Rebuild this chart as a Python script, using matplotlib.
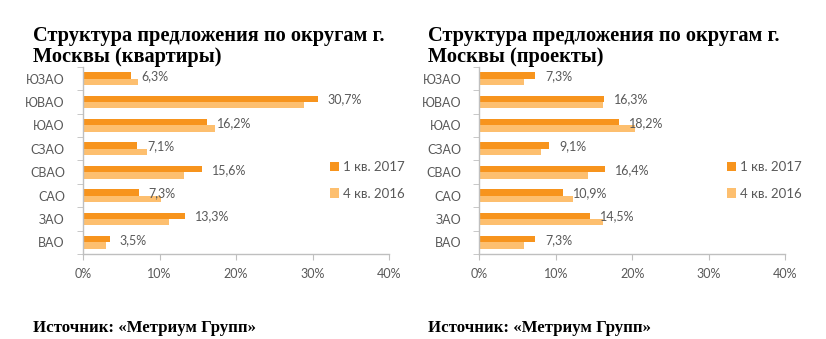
""" Структура предложения по округам Москвы: квартиры и проекты """

import matplotlib
matplotlib.use("Agg")
import matplotlib.pyplot as plt
import numpy as np

districts = ["ВАО", "ЗАО", "САО", "СВАО", "СЗАО", "ЮАО", "ЮВАО", "ЮЗАО"]

# квартиры, %
flats_q1_2017 = [3.5, 13.3, 7.3, 15.6, 7.1, 16.2, 30.7, 6.3]
flats_q4_2016 = [3.0, 11.2, 10.2, 13.2, 8.4, 17.3, 28.9, 7.2]

# проекты, %
projects_q1_2017 = [7.3, 14.5, 10.9, 16.4, 9.1, 18.2, 16.3, 7.3]
projects_q4_2016 = [5.9, 16.2, 12.3, 14.2, 8.0, 20.3, 16.2, 5.9]

series_labels = ["1 кв. 2017", "4 кв. 2016"]
x_ticks = [0, 10, 20, 30, 40]

DARK = "#F7941D"
LIGHT = "#FDBF6F"
GREY = "#BFBFBF"
TEXT = "#595959"
UI_FONT = ["Lato", "DejaVu Sans"]
SERIF = ["Liberation Serif", "DejaVu Serif"]


def drawPanel(fig, rect, title, textX, cur, prev, legendPos):
    """ Draws one horizontal bar chart panel """

    ax = fig.add_axes(rect)
    y = np.arange(len(districts))
    h = 0.27

    ax.barh(y + h / 2, cur, height=h, color=DARK, label=series_labels[0])
    ax.barh(y - h / 2, prev, height=h, color=LIGHT, label=series_labels[1])

    # value labels for the current quarter
    for yi, v in zip(y, cur):
        ax.text(v + 1.3, yi + h / 2 - 0.03, ("%.1f" % v).replace(".", ",") + "%",
                va="center", ha="left", fontsize=9, color=TEXT, family=UI_FONT)

    ax.set_xlim(0, 40)
    ax.set_ylim(-0.5, len(districts) - 0.5)
    ax.set_xticks(x_ticks)
    ax.set_xticklabels(["%d%%" % t for t in x_ticks])
    ax.set_yticks(y)
    ax.set_yticklabels(districts)
    ax.set_yticks(np.arange(len(districts) + 1) - 0.5, minor=True)

    for s in ["top", "right"]:
        ax.spines[s].set_visible(False)
    for s in ["left", "bottom"]:
        ax.spines[s].set_color(GREY)
        ax.spines[s].set_linewidth(1.0)

    ax.tick_params(axis="y", which="major", length=0, pad=13)
    ax.tick_params(axis="y", which="minor", length=4, color=GREY, direction="out")
    ax.tick_params(axis="x", which="major", length=4, color=GREY, pad=6)
    for lbl in ax.get_xticklabels() + ax.get_yticklabels():
        lbl.set_fontsize(9)
        lbl.set_color(TEXT)
        lbl.set_family(UI_FONT)

    ax.legend(loc="upper left", bbox_to_anchor=legendPos,
              bbox_transform=fig.transFigure, frameon=False,
              handlelength=0.7, handleheight=0.7, handletextpad=0.3,
              labelspacing=1.1, borderpad=0, borderaxespad=0,
              prop={"family": UI_FONT, "size": 9.5}, labelcolor=TEXT)

    fig.text(textX, 0.924, title, ha="left", va="top", fontsize=14.7,
             fontweight="bold", family=SERIF, color="black", linespacing=1.05)
    fig.text(textX, 0.021, "Источник: «Метриум Групп»", ha="left",
             va="baseline", fontsize=12.1, fontweight="bold", family=SERIF,
             color="black")
    return ax


fig = plt.figure(figsize=(8.26, 3.39), dpi=100)
fig.patch.set_facecolor("white")

drawPanel(fig, [0.1005, 0.2507, 0.3705, 0.5517],
          "Структура предложения по округам г.\nМосквы (квартиры)", 0.040,
          flats_q1_2017, flats_q4_2016, (0.399, 0.525))
drawPanel(fig, [0.5803, 0.2507, 0.3705, 0.5517],
          "Структура предложения по округам г.\nМосквы (проекты)", 0.518,
          projects_q1_2017, projects_q4_2016, (0.880, 0.525))

plt.savefig("out.png", dpi=100)
